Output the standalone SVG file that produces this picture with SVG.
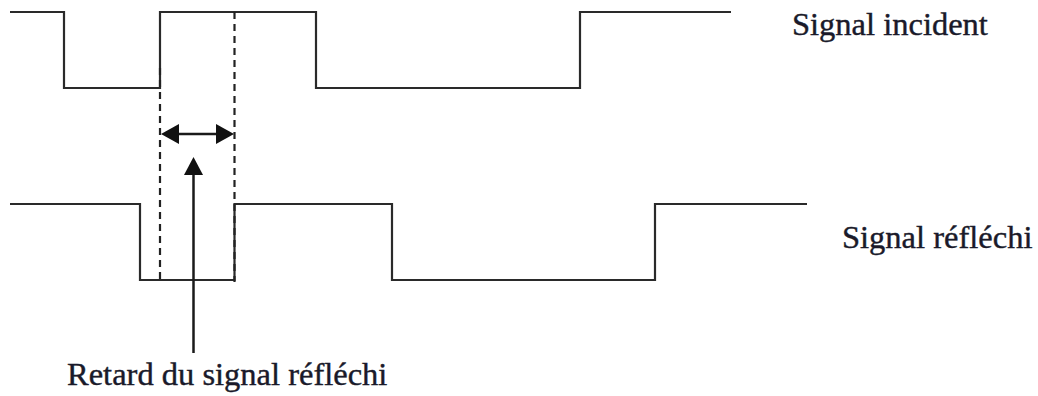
<svg xmlns="http://www.w3.org/2000/svg" width="1038" height="396" viewBox="0 0 1038 396">
<style>
.sig{fill:none;stroke:#2a2a2a;stroke-width:2.2;stroke-linejoin:miter}
.dash{fill:none;stroke:#222;stroke-width:2.2;stroke-dasharray:7 5}
.ln{fill:none;stroke:#1a1a1a;stroke-width:2.5}
.hd{fill:#111}
.lbl{font-family:"Liberation Serif","Times New Roman",serif;font-size:32.5px;fill:#1a1a2a;stroke:#1a1a2a;stroke-width:0.4}
</style>
<rect width="1038" height="396" fill="#fff"/>
<g id="incident">
<polyline class="sig" points="10,12 64,12 64,88 160,88 160,12 316,12 316,88 580,88 580,12 731,12"/>
</g>
<g id="reflechi">
<polyline class="sig" points="10,204 140,204 140,280 234.5,280 234.5,204 392,204 392,280 655,280 655,204 807,204"/>
</g>
<g id="guides">
<line class="dash" x1="160" y1="68" x2="160" y2="282"/>
<line class="dash" x1="234.5" y1="12" x2="234.5" y2="282"/>
</g>
<g id="connectors">
<line class="ln" x1="176" y1="134" x2="219" y2="134"/>
<polygon class="hd" points="161,134 179,124 179,144"/>
<polygon class="hd" points="234,134 216,124 216,144"/>
<line class="ln" x1="193.5" y1="170" x2="193.5" y2="353"/>
<polygon class="hd" points="193.5,157 184,175 203,175"/>
</g>
<g id="labels">
<text class="lbl" x="792" y="35">Signal incident</text>
<text class="lbl" x="842" y="248">Signal réfléchi</text>
<text class="lbl" x="67" y="385">Retard du signal réfléchi</text>
</g>
</svg>
